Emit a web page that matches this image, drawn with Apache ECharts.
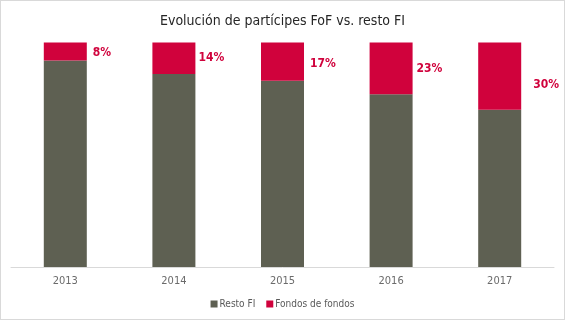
<!DOCTYPE html>
<html>
<head>
<meta charset="utf-8">
<script src="https://cdn.jsdelivr.net/npm/echarts@6/dist/echarts.min.js"></script>
<style>
html,body{margin:0;padding:0;background:#fff;}
#wrap{position:absolute;left:0;top:0;width:563px;height:318px;border:1px solid #d9d9d9;}
#chart{width:563px;height:318px;}
</style>
</head>
<body>
<div id="wrap"><div id="chart"></div></div>
<script>
const categories = ['2013', '2014', '2015', '2016', '2017'];
const restoFI = [92, 86, 83, 77, 70];
const fondosDeFondos = [8, 14, 17, 23, 30];
const labelOffsets = [[1, 1], [-2, 0], [1, 2], [-1, 1], [7, 9]];

const FONT = '"Liberation Sans Narrow", "DejaVu Sans Condensed", "Roboto", sans-serif';
const GRAY = '#5e6052';
const RED = '#d0023c';

const chart = echarts.init(document.getElementById('chart'));
chart.setOption({
  animation: false,
  title: {
    text: 'Evolución de partícipes FoF vs. resto FI',
    left: 'center',
    top: 8,
    textStyle: { fontFamily: FONT, fontSize: 14, fontWeight: 'normal', color: '#262626' }
  },
  legend: {
    top: 293,
    left: 'center',
    itemWidth: 7,
    itemHeight: 7,
    itemGap: 11,
    icon: 'rect',
    textStyle: { fontFamily: FONT, fontSize: 10, color: '#595959', padding: [0, 0, 0, -3] },
    data: ['Resto FI', 'Fondos de fondos']
  },
  grid: { left: 10, right: 10, top: 41.5, bottom: 52, containLabel: false },
  xAxis: {
    type: 'category',
    data: categories,
    axisLine: { lineStyle: { color: '#d9d9d9', width: 1 } },
    axisTick: { show: false },
    axisLabel: { fontFamily: FONT, fontSize: 11, color: '#6b6b6b', margin: 9 }
  },
  yAxis: {
    type: 'value',
    min: 0,
    max: 100,
    show: false,
    splitLine: { show: false }
  },
  series: [
    {
      name: 'Resto FI',
      type: 'bar',
      stack: 'total',
      barWidth: 43,
      itemStyle: { color: GRAY },
      data: restoFI
    },
    {
      name: 'Fondos de fondos',
      type: 'bar',
      stack: 'total',
      barWidth: 43,
      itemStyle: { color: RED },
      data: fondosDeFondos.map((v, i) => ({
        value: v,
        label: {
          show: true,
          position: 'right',
          distance: 5,
          offset: labelOffsets[i],
          formatter: '{c}%',
          fontFamily: FONT,
          fontSize: 12,
          fontWeight: 'bold',
          color: RED
        }
      }))
    }
  ]
});
</script>
</body>
</html>
